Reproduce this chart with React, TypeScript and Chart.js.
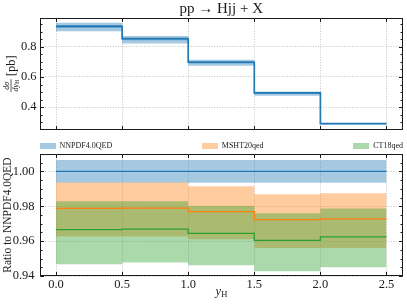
import React, { useEffect, useRef } from 'react';
import { Chart, registerables } from 'chart.js';

Chart.register(...registerables);

const SERIF = '"Liberation Serif", "DejaVu Serif", serif';

// Bin edges in y_H and tick values
const binEdges = [0, 0.5, 1.0, 1.5, 2.0, 2.5];
const xTicks = [0, 0.5, 1.0, 1.5, 2.0, 2.5];
const topYTicks = [0.4, 0.6, 0.8];
const ratioYTicks = [0.94, 0.96, 0.98, 1.0];

// Top panel: dsigma/dy_H [pb] for NNPDF4.0QED
const xsecCentral = [0.937, 0.854, 0.698, 0.494, 0.290];
const xsecInnerUp = [0.946, 0.863, 0.705, 0.499, 0.292];
const xsecInnerLo = [0.928, 0.844, 0.689, 0.488, 0.287];
const xsecOuterUp = [0.961, 0.873, 0.714, 0.504, 0.295];
const xsecOuterLo = [0.904, 0.822, 0.675, 0.475, 0.284];

// Bottom panel: ratio to NNPDF4.0QED
const nnpdfRatio = [1.0, 1.0, 1.0, 1.0, 1.0];
const nnpdfUp = [1.0065, 1.0065, 1.0065, 1.0065, 1.0065];
const nnpdfLo = [0.9935, 0.9935, 0.9935, 0.9935, 0.9935];
const mshtRatio = [0.9788, 0.9789, 0.9769, 0.9724, 0.9728];
const mshtUp = [0.9937, 0.9937, 0.9915, 0.9869, 0.9875];
const mshtLo = [0.9627, 0.9627, 0.9611, 0.956, 0.956];
const ctRatio = [0.9666, 0.9669, 0.9644, 0.9604, 0.9625];
const ctUp = [0.9829, 0.9829, 0.9802, 0.976, 0.9788];
const ctLo = [0.9467, 0.9478, 0.9461, 0.9427, 0.945];

const legendLabels = ['NNPDF4.0QED', 'MSHT20qed', 'CT18qed'];

const BLUE = '#1f77b4';
const ORANGE = '#ff7f0e';
const GREEN = '#2ca02c';
const BLUE_BAND = 'rgba(31,119,180,0.4)';
const ORANGE_BAND = 'rgba(255,127,14,0.4)';
const GREEN_BAND = 'rgba(44,160,44,0.4)';

const stepPoints = (vals: number[]) =>
  binEdges.map((x, i) => ({ x, y: vals[Math.min(i, vals.length - 1)] }));

const lineDs = (label: string, vals: number[], color: string, width: number) => ({
  label,
  data: stepPoints(vals),
  borderColor: color,
  borderWidth: width,
  stepped: 'before' as const,
  pointRadius: 0,
  fill: false,
  tension: 0,
  order: 0,
});

const bandDs = (label: string, vals: number[], bg: string, fillNext: boolean, order: number) => ({
  label,
  data: stepPoints(vals),
  borderWidth: 0,
  borderColor: 'rgba(0,0,0,0)',
  backgroundColor: bg,
  stepped: 'before' as const,
  pointRadius: 0,
  fill: fillNext ? '+1' : false,
  tension: 0,
  order,
});

const framePlugin = {
  id: 'frame',
  afterDatasetsDraw(chart: any, _args: any, opts: any) {
    const { ctx, chartArea } = chart;
    const xs = chart.scales.x;
    const ys = chart.scales.y;
    const l = Math.round(chartArea.left) + 0.5;
    const r = Math.round(chartArea.right) - 0.5;
    const t = Math.round(chartArea.top) + 0.5;
    const b = Math.round(chartArea.bottom) - 0.5;
    ctx.save();
    ctx.strokeStyle = '#1a1a1a';
    ctx.lineWidth = 1;
    ctx.strokeRect(l, t, r - l, b - t);
    const major = 3.5;
    const minor = 2;
    ctx.beginPath();
    for (const v of opts.xMajor) {
      const p = Math.round(xs.getPixelForValue(v)) + 0.5;
      ctx.moveTo(p, b);
      ctx.lineTo(p, b - major);
      ctx.moveTo(p, t);
      ctx.lineTo(p, t + major);
    }
    for (const v of opts.yMajor) {
      const p = Math.round(ys.getPixelForValue(v)) + 0.5;
      ctx.moveTo(l, p);
      ctx.lineTo(l + major, p);
      ctx.moveTo(r, p);
      ctx.lineTo(r - major, p);
    }
    const step = opts.yMinorStep;
    const start = Math.ceil(ys.min / step - 1e-9);
    const end = Math.floor(ys.max / step + 1e-9);
    for (let k = start; k <= end; k++) {
      const v = k * step;
      const p = Math.round(ys.getPixelForValue(v)) + 0.5;
      ctx.moveTo(l, p);
      ctx.lineTo(l + minor, p);
      ctx.moveTo(r, p);
      ctx.lineTo(r - minor, p);
    }
    ctx.stroke();
    ctx.restore();
  },
};

const yFracPlugin = {
  id: 'yFrac',
  afterDraw(chart: any) {
    const { ctx, chartArea } = chart;
    const cy = (chartArea.top + chartArea.bottom) / 2;
    const cx = 11;
    ctx.save();
    ctx.translate(cx, cy);
    ctx.rotate(-Math.PI / 2);
    ctx.fillStyle = '#1a1a1a';
    ctx.textBaseline = 'alphabetic';
    ctx.textAlign = 'left';
    const small = 8;
    const sub = 5.5;
    ctx.font = `italic ${small}px ${SERIF}`;
    const numW = ctx.measureText('dσ').width;
    const dyW = ctx.measureText('dy').width;
    ctx.font = `${sub}px ${SERIF}`;
    const hW = ctx.measureText('H').width;
    const denW = dyW + hW;
    const fracW = Math.max(numW, denW) + 1.5;
    ctx.font = `12.5px ${SERIF}`;
    const pbW = ctx.measureText('[pb]').width;
    const gap = 3;
    const total = fracW + gap + pbW;
    const x0 = -total / 2;
    const fc = x0 + fracW / 2;
    ctx.fillRect(x0, -0.35, fracW, 0.7);
    ctx.font = `italic ${small}px ${SERIF}`;
    ctx.fillText('dσ', fc - numW / 2, -1.8);
    const dx = fc - denW / 2;
    ctx.fillText('dy', dx, 6.6);
    ctx.font = `${sub}px ${SERIF}`;
    ctx.fillText('H', dx + dyW, 8);
    ctx.font = `12.5px ${SERIF}`;
    ctx.textBaseline = 'middle';
    ctx.fillText('[pb]', x0 + fracW + gap, 0.3);
    ctx.restore();
  },
};

const xTitlePlugin = {
  id: 'xTitle',
  afterDraw(chart: any) {
    const { ctx, chartArea } = chart;
    const cx = (chartArea.left + chartArea.right) / 2;
    const baseY = 155;
    ctx.save();
    ctx.fillStyle = '#1a1a1a';
    ctx.textBaseline = 'alphabetic';
    ctx.textAlign = 'left';
    ctx.font = `italic 12.5px ${SERIF}`;
    const yW = ctx.measureText('y').width;
    ctx.font = `8.5px ${SERIF}`;
    const hW = ctx.measureText('H').width;
    const start = cx - (yW + hW) / 2;
    ctx.font = `italic 12.5px ${SERIF}`;
    ctx.fillText('y', start, baseY);
    ctx.font = `8.5px ${SERIF}`;
    ctx.fillText('H', start + yW + 0.3, baseY + 2);
    ctx.restore();
  },
};

const gridOpts = { display: true, color: '#b5b5b5', lineWidth: 0.8, drawTicks: false };
const borderOpts = { display: false, dash: [1, 1.6] };

export default function App() {
  const topRef = useRef<HTMLCanvasElement>(null);
  const botRef = useRef<HTMLCanvasElement>(null);

  useEffect(() => {
    Chart.defaults.font.family = SERIF;
    Chart.defaults.color = '#1a1a1a';

    const top = new Chart(topRef.current as HTMLCanvasElement, {
      type: 'line',
      data: {
        datasets: [
          lineDs('NNPDF4.0QED', xsecCentral, BLUE, 1.7),
          bandDs('inner up', xsecInnerUp, BLUE_BAND, true, 1),
          bandDs('inner lo', xsecInnerLo, BLUE_BAND, false, 1),
          bandDs('outer up', xsecOuterUp, BLUE_BAND, true, 2),
          bandDs('outer lo', xsecOuterLo, BLUE_BAND, false, 2),
        ] as any,
      },
      options: {
        animation: false,
        responsive: false,
        devicePixelRatio: 1,
        layout: { padding: { left: 0, right: 4, top: 0, bottom: 1 } },
        plugins: {
          legend: { display: false },
          tooltip: { enabled: false },
          title: {
            display: true,
            text: 'pp → Hjj + X',
            fullSize: false,
            font: { family: SERIF, size: 15, weight: 'normal', lineHeight: 1.2 },
            color: '#1a1a1a',
            padding: { top: 0, bottom: 0 },
          },
          frame: { xMajor: xTicks, yMajor: topYTicks, yMinorStep: 0.05 },
        } as any,
        scales: {
          x: {
            type: 'linear',
            min: -0.125,
            max: 2.625,
            grid: gridOpts,
            border: borderOpts,
            ticks: { display: false },
            afterBuildTicks: (s: any) => {
              s.ticks = xTicks.map((v) => ({ value: v }));
            },
            afterFit: (s: any) => {
              s.height = 0;
            },
          },
          y: {
            type: 'linear',
            min: 0.251,
            max: 0.992,
            grid: gridOpts,
            border: borderOpts,
            ticks: {
              font: { family: SERIF, size: 12.5 },
              padding: 3,
              color: '#1a1a1a',
              callback: (v: any) => Number(v).toFixed(1),
            },
            afterBuildTicks: (s: any) => {
              s.ticks = topYTicks.map((v) => ({ value: v }));
            },
            afterFit: (s: any) => {
              s.width = 39.5;
            },
          },
        },
      },
      plugins: [framePlugin, yFracPlugin],
    });

    const bot = new Chart(botRef.current as HTMLCanvasElement, {
      type: 'line',
      data: {
        datasets: [
          lineDs('NNPDF4.0QED', nnpdfRatio, BLUE, 1.3),
          lineDs('MSHT20qed', mshtRatio, ORANGE, 1.3),
          lineDs('CT18qed', ctRatio, GREEN, 1.3),
          bandDs('CT18qed up', ctUp, GREEN_BAND, true, 1),
          bandDs('CT18qed lo', ctLo, GREEN_BAND, false, 1),
          bandDs('MSHT20qed up', mshtUp, ORANGE_BAND, true, 2),
          bandDs('MSHT20qed lo', mshtLo, ORANGE_BAND, false, 2),
          bandDs('NNPDF up', nnpdfUp, BLUE_BAND, true, 3),
          bandDs('NNPDF lo', nnpdfLo, BLUE_BAND, false, 3),
        ] as any,
      },
      options: {
        animation: false,
        responsive: false,
        devicePixelRatio: 1,
        layout: { padding: { left: 0, right: 4, top: 14, bottom: 0 } },
        plugins: {
          legend: { display: false },
          tooltip: { enabled: false },
          frame: { xMajor: xTicks, yMajor: ratioYTicks, yMinorStep: 0.005 },
        } as any,
        scales: {
          x: {
            type: 'linear',
            min: -0.125,
            max: 2.625,
            grid: gridOpts,
            border: borderOpts,
            ticks: {
              font: { family: SERIF, size: 12.5 },
              padding: 1,
              color: '#1a1a1a',
              maxRotation: 0,
              callback: (v: any) => Number(v).toFixed(1),
            },
            afterBuildTicks: (s: any) => {
              s.ticks = xTicks.map((v) => ({ value: v }));
            },
            afterFit: (s: any) => {
              s.height = 29;
            },
          },
          y: {
            type: 'linear',
            min: 0.94,
            max: 1.01,
            grid: gridOpts,
            border: borderOpts,
            title: {
              display: true,
              text: 'Ratio to NNPDF4.0QED',
              font: { family: SERIF, size: 11.5 },
              color: '#1a1a1a',
              padding: { top: 1.5, bottom: 0 },
            },
            ticks: {
              font: { family: SERIF, size: 12.5 },
              padding: 5,
              color: '#1a1a1a',
              callback: (v: any) => Number(v).toFixed(2),
            },
            afterBuildTicks: (s: any) => {
              s.ticks = ratioYTicks.map((v) => ({ value: v }));
            },
            afterFit: (s: any) => {
              s.width = 39.5;
            },
          },
        },
      },
      plugins: [framePlugin, xTitlePlugin],
    });

    return () => {
      top.destroy();
      bot.destroy();
    };
  }, []);

  const legendColors = [BLUE_BAND, ORANGE_BAND, GREEN_BAND];

  return (
    <div style={{ position: 'fixed', left: 0, top: 0, width: 407, height: 305, background: '#fff' }}>
      <canvas ref={topRef} width={407} height={140} style={{ position: 'absolute', left: 0, top: 0 }} />
      <canvas ref={botRef} width={407} height={165} style={{ position: 'absolute', left: 0, top: 140 }} />
      <div
        style={{
          position: 'absolute',
          left: 39.5,
          top: 141,
          width: 363.5,
          height: 10,
          display: 'flex',
          justifyContent: 'space-between',
          alignItems: 'center',
          fontFamily: SERIF,
          fontSize: 8,
          color: '#1a1a1a',
          lineHeight: '10px',
        }}
      >
        {legendLabels.map((lab, i) => (
          <div key={lab} style={{ display: 'flex', alignItems: 'center' }}>
            <span style={{ display: 'inline-block', width: 16, height: 6, background: legendColors[i] }} />
            <span style={{ marginLeft: 4 }}>{lab}</span>
          </div>
        ))}
      </div>
    </div>
  );
}
